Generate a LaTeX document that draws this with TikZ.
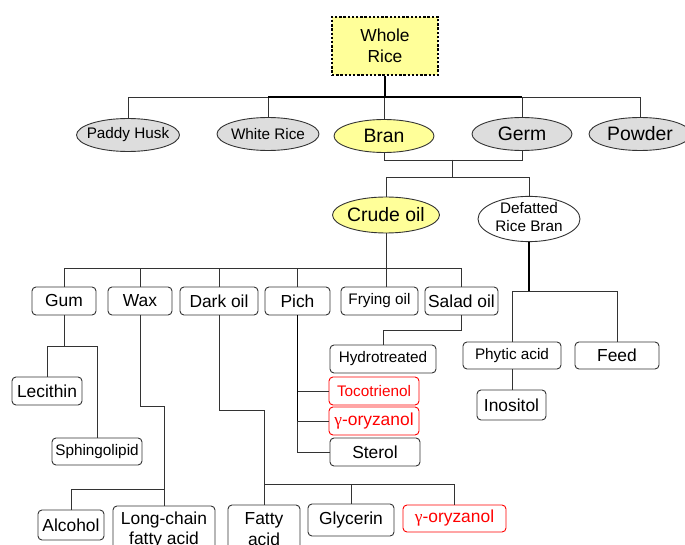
\documentclass[tikz,border=0pt]{standalone}
\usepackage{fontspec}
\setmainfont{Liberation Sans}
\newfontfamily\greekfont{Liberation Serif}
\usetikzlibrary{shapes.geometric}

\definecolor{paleyellow}{HTML}{FFFF99}
\definecolor{palegray}{HTML}{DDDDDD}
\newcommand{\fsmall}{\fontsize{15.3}{18}\selectfont}
\newcommand{\fmid}{\fontsize{17.4}{20.5}\selectfont}
\newcommand{\fbig}{\fontsize{19.4}{22}\selectfont}
\newcommand{\gam}{{\greekfont γ}}
\newcommand{\etext}[1]{\makebox[0pt]{#1}}

\begin{document}
\begin{tikzpicture}[x=1pt, y=-1pt,
  line/.style={draw=black!80, line width=0.9pt},
  thickline/.style={draw=black, line width=1.7pt},
  ell/.style={ellipse, draw=black!80, line width=0.9pt, fill=palegray, inner sep=0pt, minimum height=33pt},
  box/.style={draw=black!80, line width=0.9pt, rounded corners=4pt, fill=white, inner sep=0pt, align=center, minimum height=28pt, font=\fmid},
  redbox/.style={box, draw=red, text=red}
]
\useasboundingbox (0,0) rectangle (685,545);
\clip (0,0) rectangle (685,545);

% top level
\node[draw=black, line width=2.6pt, dash pattern=on 2.4pt off 1.8pt, fill=paleyellow,
  minimum width=106pt, minimum height=58pt, inner sep=0pt, align=center, font=\fmid] (whole) at (385,46) {Whole\\Rice};
\node[ell, minimum width=103pt, font=\fsmall] (husk) at (128,135) {\etext{Paddy Husk}};
\node[ell, minimum width=102pt, font=\fsmall] (white) at (268,134) {\etext{White Rice}};
\node[ell, minimum width=100pt, fill=paleyellow, font=\fbig] (bran) at (384,136) {\etext{Bran}};
\node[ell, minimum width=100pt, font=\fbig] (germ) at (522,134) {\etext{Germ}};
\node[ell, minimum width=102pt, font=\fbig] (powder) at (640,134) {\etext{Powder}};

% second level
\node[ell, minimum width=107pt, minimum height=36pt, fill=paleyellow, font=\fbig] (crude) at (386,215) {\etext{Crude oil}};
\node[ell, minimum width=102pt, minimum height=44pt, inner ysep=-2pt, fill=white, font=\fsmall] (defat) at (529,219)
  {\etext{\raisebox{-2pt}{\begin{tabular}{@{}c@{}}Defatted\\Rice Bran\end{tabular}}}};

% oil fractions
\node[box, minimum width=64pt] (gum) at (64,301) {Gum};
\node[box, minimum width=64pt] (wax) at (140,301) {Wax};
\node[box, minimum width=78pt] (dark) at (219,301) {Dark oil};
\node[box, minimum width=65pt] (pich) at (297.5,301) {Pich};
\node[box, minimum width=77pt, font=\fsmall] (fry) at (379.5,301) {Frying oil};
\node[box, minimum width=73pt] (salad) at (461.5,301) {Salad oil};

% products
\node[box, minimum width=70pt] (lec) at (47,391) {Lecithin};
\node[box, minimum width=90pt, minimum height=27pt, font=\fsmall] (sph) at (97,451.5) {Sphingolipid};
\node[box, minimum width=66pt, minimum height=30pt] (alc) at (71,525) {Alcohol};
\node[box, minimum width=102pt, minimum height=48pt] (longc) at (164,530) {Long-chain\\fatty acid};
\node[box, minimum width=72pt, minimum height=48pt] (fatty) at (264,529) {Fatty\\acid};
\node[box, minimum width=86pt, minimum height=32pt] (glyc) at (351,520) {Glycerin};
\node[redbox, minimum width=103pt, minimum height=27pt] (oryz2) at (454.5,518.5) {\gam-oryzanol};
\node[box, minimum width=106pt, font=\fsmall] (hydro) at (383,359) {Hydrotreated};
\node[redbox, minimum width=90pt, font=\fsmall] (toco) at (374,391) {Tocotrienol};
\node[redbox, minimum width=90pt] (oryz1) at (374,421) {\gam-oryzanol};
\node[box, minimum width=90pt] (sterol) at (375,452) {Sterol};
\node[box, minimum width=98pt, minimum height=27pt, font=\fsmall] (phytic) at (512,355.5) {Phytic acid};
\node[box, minimum width=84pt, minimum height=27pt] (feed) at (617,355.5) {Feed};
\node[box, minimum width=69pt, minimum height=30pt] (inos) at (511.5,405) {Inositol};

% bus levels
\coordinate (bus1) at (0,97);
\coordinate (bus2) at (0,160);
\coordinate (mid) at (452,160);
\coordinate (bus3) at (0,177);
\coordinate (bus4) at (0,268);
\coordinate (bus5) at (0,346);
\coordinate (kw) at (0,406);
\coordinate (bus6) at (0,489);
\coordinate (kd) at (0,410);
\coordinate (bus7) at (0,484);
\coordinate (ks) at (0,330);
\coordinate (bus8) at (0,291);

% connectors
\foreach \n in {husk,white,bran,germ,powder}
  \draw[line] (whole.south) |- (\n.north |- bus1) -- (\n.north);
\draw[thickline] (whole.south) -- (whole.south |- bus1);
\draw[thickline] (white.north |- bus1) -- (germ.north |- bus1);
\draw[line] (bran.south) |- (germ.south |- bus2) -- (germ.south);
\draw[line] (mid) |- (crude.north |- bus3) -- (crude.north);
\draw[line] (mid) |- (defat.north |- bus3) -- (defat.north);

\foreach \n in {gum,wax,dark,pich,salad}
  \draw[line] (crude.south) |- (\n.north |- bus4) -- (\n.north);
\draw[line] (crude.south) -- (crude.south |- fry.north);

\draw[line] (gum.south) |- (lec.north |- bus5) -- (lec.north);
\draw[line] (gum.south) |- (sph.north |- bus5) -- (sph.north);

\draw[line] (wax.south) |- (longc.north |- kw) -- (longc.north);
\draw[line] (longc.north |- bus6) -| (alc.north);

\draw[line] (dark.south) |- (fatty.north |- kd) -- (fatty.north);
\draw[line] (fatty.north |- bus7) -| (glyc.north);
\draw[line] (fatty.north |- bus7) -| (oryz2.north);

\foreach \n in {toco,oryz1,sterol}
  \draw[line] (pich.south) |- (\n.west);
\draw[thickline] (pich.south) -- (pich.south |- oryz1.west);

\draw[line] (salad.south) |- (hydro.north |- ks) -- (hydro.north);

\draw[line] (defat.south) |- (phytic.north |- bus8) -- (phytic.north);
\draw[line] (defat.south) |- (feed.north |- bus8) -- (feed.north);
\draw[thickline] (defat.south) -- (defat.south |- bus8);
\draw[line] (phytic.south) -- (phytic.south |- inos.north);
\end{tikzpicture}
\end{document}
